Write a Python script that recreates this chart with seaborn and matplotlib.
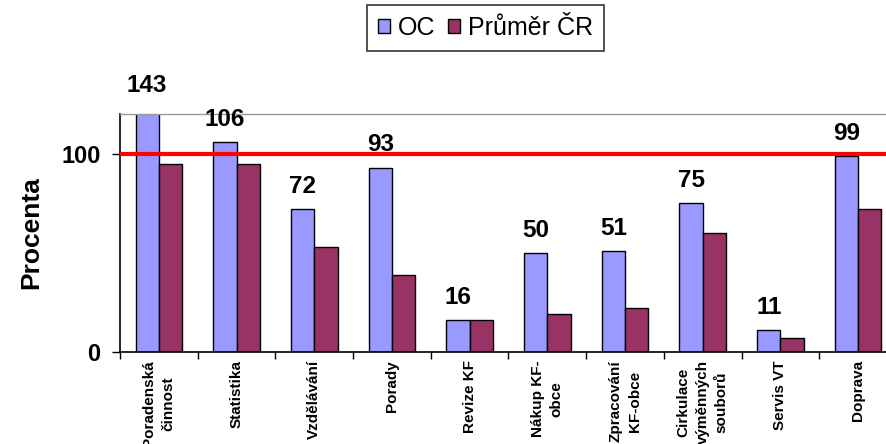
import pandas as pd
import matplotlib.pyplot as plt
import seaborn as sns

# --- data ---
categories = ["Poradenská\nčinnost", "Statistika", "Vzdělávání", "Porady", "Revize KF",
              "Nákup KF-\nobce", "Zpracování\nKF-obce", "Cirkulace\nvýměnných\nsouborů",
              "Servis VT", "Doprava"]
oc_values = [143, 106, 72, 93, 16, 50, 51, 75, 11, 99]
cr_values = [95, 95, 53, 39, 16, 19, 22, 60, 7, 72]
series_names = ["OC", "Průměr ČR"]
y_ticks = [0, 100]
reference_level = 100

df = pd.DataFrame({
    "Kategorie": categories * 2,
    "Hodnota": oc_values + cr_values,
    "Serie": [series_names[0]] * len(categories) + [series_names[1]] * len(categories),
})

sns.set_theme(style="white")
plt.rcParams["font.family"] = ["Liberation Sans", "DejaVu Sans"]
plt.rcParams["text.color"] = "black"
plt.rcParams["axes.labelcolor"] = "black"
plt.rcParams["xtick.color"] = "black"
plt.rcParams["ytick.color"] = "black"

fig = plt.figure(figsize=(8.86, 4.44), dpi=100)
ax = fig.add_axes([0.1354, 0.2072, 0.877, 0.536])

sns.barplot(data=df, x="Kategorie", y="Hodnota", hue="Serie", order=categories,
            hue_order=series_names, palette=["#9999FF", "#993366"], saturation=1,
            width=0.6, edgecolor="black", linewidth=1, ax=ax)

ax.axhline(reference_level, color="#FF0000", linewidth=3, zorder=5)

ax.set_ylim(0, 120)
ax.set_xlim(-0.5, len(categories) - 0.5)

# value labels above the OC bars (clipped bar gets its label above the plot area)
for i, v in enumerate(oc_values):
    ax.annotate(str(v), xy=(i - 0.15, min(v, 123)), xytext=(0, 8),
                textcoords="offset points", ha="center", va="bottom",
                fontsize=17.5, fontweight="bold", annotation_clip=False)

# y axis
ax.set_yticks(y_ticks)
ax.set_yticklabels([str(t) for t in y_ticks], fontsize=17, fontweight="bold")
ax.set_ylabel("Procenta", fontsize=19, fontweight="bold", labelpad=13)
ax.tick_params(axis="y", which="major", direction="out", length=6, width=1, left=True, pad=8)

# x axis: ticks at group boundaries, labels at group centers
ax.set_xlabel("")
ax.set_xticks([i - 0.5 for i in range(len(categories) + 1)])
ax.set_xticklabels([])
ax.set_xticks(range(len(categories)), minor=True)
ax.set_xticklabels(categories, minor=True, rotation=90, fontsize=11, fontweight="bold",
                   va="top", ha="center", linespacing=1.45)
ax.tick_params(axis="x", which="major", direction="out", length=5, width=1, bottom=True)
ax.tick_params(axis="x", which="minor", length=0, pad=6)

for side in ["left", "bottom"]:
    ax.spines[side].set_color("black")
    ax.spines[side].set_linewidth(1.2)
ax.spines["top"].set_color("#999999")
ax.spines["top"].set_linewidth(1)
ax.spines["right"].set_visible(False)

handles, labels = ax.get_legend_handles_labels()
ax.get_legend().remove()
leg = fig.legend(handles, labels, loc="upper center", bbox_to_anchor=(0.548, 0.989), ncol=2,
                 fontsize=18, frameon=True, fancybox=False, edgecolor="black",
                 handlelength=0.5, handleheight=0.5, handletextpad=0.3, columnspacing=0.5,
                 borderpad=0.45, borderaxespad=0)
leg.get_frame().set_linewidth(1.2)

fig.savefig("out.png", dpi=100)
